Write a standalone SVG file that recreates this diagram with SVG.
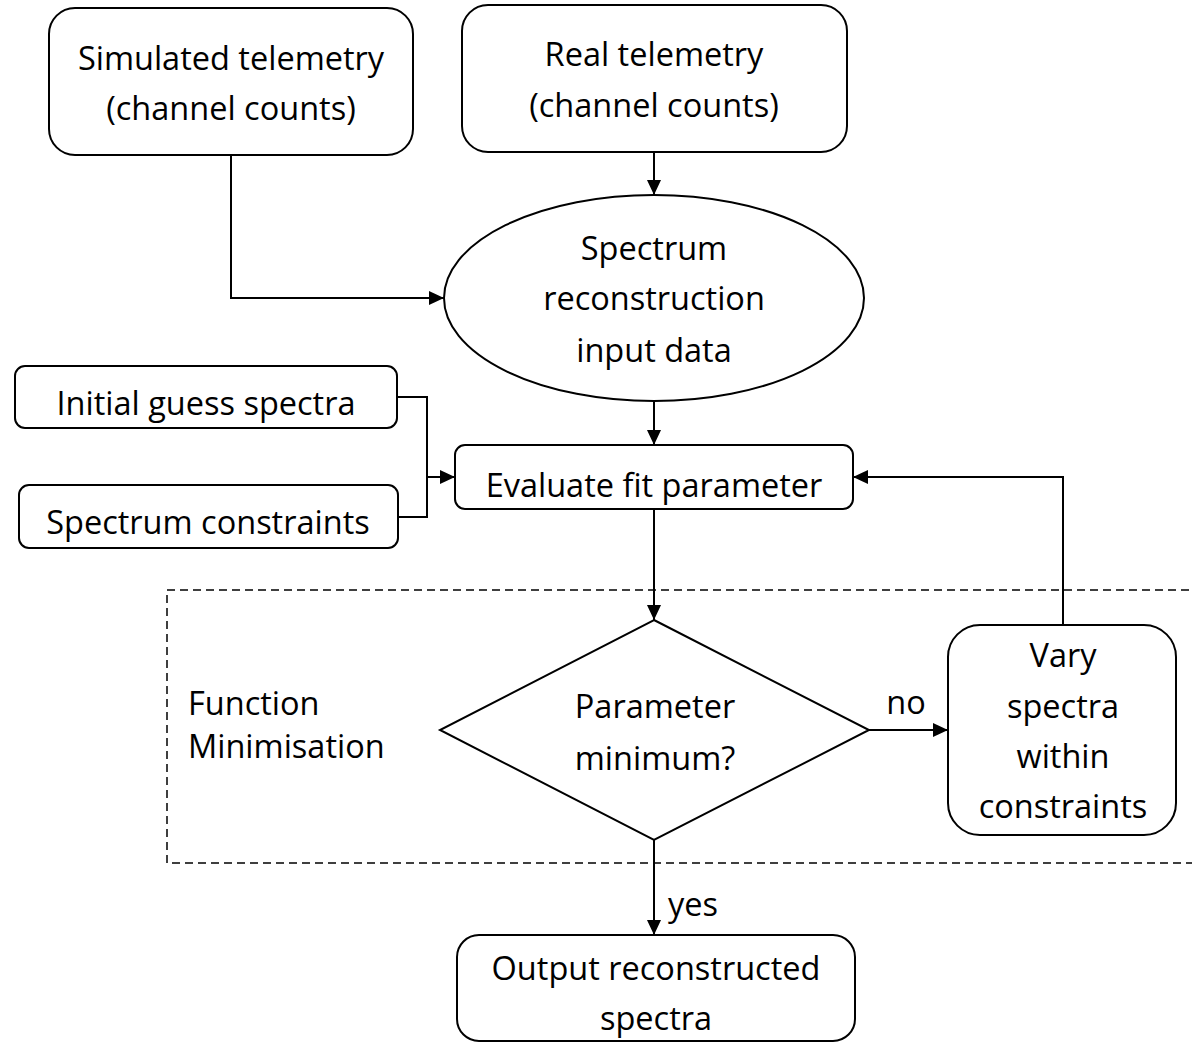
<svg xmlns="http://www.w3.org/2000/svg" width="1192" height="1045" viewBox="0 0 1192 1045">
<defs>
<marker id="ah" markerWidth="15" markerHeight="14" refX="15" refY="7" orient="auto" markerUnits="userSpaceOnUse" viewBox="0 0 15 14">
<path d="M0,0 L15,7 L0,14 Z" fill="#000"/>
</marker>
<style>
.box{fill:#fff;stroke:#000;stroke-width:2}
.t{font-family:"Open Sans","Liberation Sans",sans-serif;font-size:32.5px;fill:#000;text-anchor:middle}
.tl{font-family:"Open Sans","Liberation Sans",sans-serif;font-size:32.5px;fill:#000}
.c{fill:none;stroke:#000;stroke-width:2}
.dash{fill:none;stroke:#000;stroke-width:1.5;stroke-dasharray:8 5}
</style>
</defs>
<rect width="1192" height="1045" fill="#fff"/>
<g id="minimisation-region">
<rect class="dash" x="167" y="590" width="1040" height="273"/>
<text class="tl" x="188" y="715">Function</text>
<text class="tl" x="188" y="758">Minimisation</text>
</g>
<g id="connectors">
<path class="c" d="M654,152 L654,195" marker-end="url(#ah)"/>
<path class="c" d="M231,155 L231,298 L444,298" marker-end="url(#ah)"/>
<path class="c" d="M654,401 L654,445" marker-end="url(#ah)"/>
<path class="c" d="M397,397 L427,397 L427,517 L398,517"/>
<path class="c" d="M427,477 L455,477" marker-end="url(#ah)"/>
<path class="c" d="M1063,625 L1063,477 L853,477" marker-end="url(#ah)"/>
<path class="c" d="M654,509 L654,620" marker-end="url(#ah)"/>
<path class="c" d="M869,730 L948,730" marker-end="url(#ah)"/>
<path class="c" d="M654,840 L654,935" marker-end="url(#ah)"/>
<text class="t" x="906" y="714">no</text>
<text class="tl" x="668" y="916">yes</text>
</g>
<g id="simulated-telemetry">
<rect class="box" x="49" y="8" width="364" height="147" rx="26"/>
<text class="t" x="231" y="70">Simulated telemetry</text>
<text class="t" x="231" y="120">(channel counts)</text>
</g>
<g id="real-telemetry">
<rect class="box" x="462" y="5" width="385" height="147" rx="26"/>
<text class="t" x="654" y="66">Real telemetry</text>
<text class="t" x="654" y="117">(channel counts)</text>
</g>
<g id="spectrum-input">
<ellipse class="box" cx="654" cy="298" rx="210" ry="103"/>
<text class="t" x="654" y="260">Spectrum</text>
<text class="t" x="654" y="310">reconstruction</text>
<text class="t" x="654" y="362">input data</text>
</g>
<g id="initial-guess">
<rect class="box" x="15" y="366" width="382" height="62" rx="10"/>
<text class="t" x="206" y="415">Initial guess spectra</text>
</g>
<g id="spectrum-constraints">
<rect class="box" x="19" y="485" width="379" height="63" rx="10"/>
<text class="t" x="208" y="534">Spectrum constraints</text>
</g>
<g id="evaluate-fit">
<rect class="box" x="455" y="445" width="398" height="64" rx="10"/>
<text class="t" x="654" y="497">Evaluate fit parameter</text>
</g>
<g id="parameter-minimum">
<polygon class="box" points="654,620 869,730 654,840 440,730"/>
<text class="t" x="655" y="718">Parameter</text>
<text class="t" x="655" y="770">minimum?</text>
</g>
<g id="vary-spectra">
<rect class="box" x="948" y="625" width="228" height="210" rx="32"/>
<text class="t" x="1063" y="667">Vary</text>
<text class="t" x="1063" y="718">spectra</text>
<text class="t" x="1063" y="768">within</text>
<text class="t" x="1063" y="818">constraints</text>
</g>
<g id="output-spectra">
<rect class="box" x="457" y="935" width="398" height="106" rx="22"/>
<text class="t" x="656" y="980">Output reconstructed</text>
<text class="t" x="656" y="1030">spectra</text>
</g>
</svg>
